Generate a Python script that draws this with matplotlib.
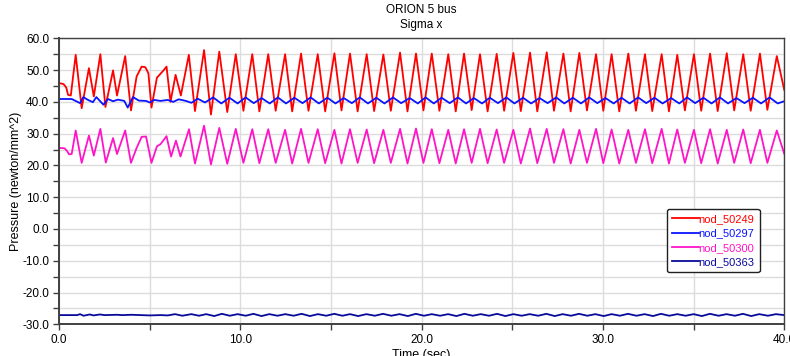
import numpy as np
import matplotlib
matplotlib.use("Agg")
import matplotlib.pyplot as plt
from matplotlib.ticker import MultipleLocator, FormatStrFormatter

plt.rcParams["font.family"] = ["Liberation Sans", "DejaVu Sans"]

labels = ["nod_50249", "nod_50297", "nod_50300", "nod_50363"]
colors = ["#ff0000", "#0a14ff", "#ff14c8", "#0a0a9a"]

# peaks / troughs of the steady oscillation (red and magenta are in phase)
osc_peak_t = [8.0, 8.84, 9.75, 10.66, 11.54, 12.47, 13.35, 14.27, 15.19, 16.05,
              16.97, 17.89, 18.81, 19.69, 20.56, 21.47, 22.34, 23.22, 24.14, 25.06,
              25.98, 26.9, 27.82, 28.7, 29.62, 30.48, 31.4, 32.32, 33.24, 34.1,
              35.02, 35.91, 36.83, 37.74, 38.66, 39.59]
osc_trough_t = [8.38, 9.28, 10.17, 11.05, 11.95, 12.86, 13.76, 14.68, 15.58, 16.47,
                17.38, 18.3, 19.22, 20.1, 20.98, 21.88, 22.76, 23.64, 24.55, 25.47,
                26.38, 27.3, 28.22, 29.12, 30.02, 30.9, 31.82, 32.72, 33.64, 34.52,
                35.42, 36.33, 37.24, 38.15, 39.07]

# nod_50249 (red)
red_early_t = [0.0, 0.25, 0.4, 0.5, 0.65, 0.92, 1.25, 1.65, 1.92, 2.28, 2.56, 2.98,
               3.2, 3.65, 3.97, 4.28, 4.56, 4.76, 4.93, 5.1, 5.4, 5.75, 5.93, 6.15,
               6.43, 6.72, 7.16, 7.5]
red_early_v = [45.9, 45.6, 44.5, 42.2, 42.0, 54.8, 38.0, 50.6, 41.7, 55.0, 38.4, 49.9,
               42.0, 54.4, 37.3, 48.0, 51.1, 50.9, 49.0, 38.2, 47.6, 49.8, 51.1, 40.0,
               48.5, 42.0, 54.8, 37.1]
red_peak_v = [56.3, 55.8, 55.0, 55.0, 55.0, 55.0, 55.2, 55.0, 55.3, 55.2, 55.0, 54.9,
              55.5, 55.2, 55.2, 55.0, 55.2, 55.0, 55.1, 55.4, 55.5, 55.6, 55.2, 55.4,
              55.0, 55.0, 55.2, 55.0, 55.0, 54.8, 55.0, 55.2, 55.3, 55.0, 55.2, 54.4]
red_trough_v = [36.0, 36.8, 37.2, 37.0, 37.2, 37.0, 37.2, 37.0, 37.3, 37.0, 37.1, 37.2,
                37.0, 37.3, 37.2, 37.0, 37.4, 37.0, 37.2, 37.1, 37.0, 37.2, 37.0, 37.3,
                37.2, 37.0, 37.2, 37.1, 37.0, 37.3, 37.2, 37.1, 37.3, 37.2, 37.5]
red_end = (40.0, 43.8)

# nod_50300 (magenta)
mag_early_t = [0.0, 0.3, 0.45, 0.55, 0.7, 0.92, 1.25, 1.65, 1.92, 2.28, 2.58, 2.98,
               3.2, 3.65, 3.97, 4.28, 4.56, 4.8, 5.1, 5.4, 5.6, 5.93, 6.18, 6.45,
               6.7, 7.17, 7.5]
mag_early_v = [25.5, 25.4, 24.5, 23.5, 23.6, 31.0, 20.8, 29.4, 23.1, 31.5, 20.9, 28.6,
               23.6, 31.0, 20.8, 25.5, 29.0, 29.1, 20.8, 26.0, 26.7, 29.2, 22.8, 27.8,
               22.8, 31.4, 20.6]
mag_peak_v = [32.5, 31.8, 31.5, 31.4, 31.4, 31.2, 31.5, 31.4, 31.2, 31.4, 31.3, 31.2,
              31.5, 31.6, 31.4, 31.2, 31.4, 31.5, 31.3, 31.2, 31.6, 31.5, 31.4, 31.2,
              31.5, 31.3, 31.2, 31.4, 31.5, 31.3, 31.2, 31.4, 31.2, 31.3, 31.2, 31.0]
mag_trough_v = [20.3, 20.5, 20.8, 20.7, 20.8, 20.6, 20.8, 20.7, 20.6, 20.8, 20.7, 20.8,
                20.6, 20.8, 20.7, 20.6, 20.8, 20.7, 20.8, 20.6, 20.7, 20.8, 20.6, 20.8,
                20.7, 20.6, 20.8, 20.7, 20.6, 20.8, 20.7, 20.6, 20.8, 20.7, 20.8]
mag_end = (40.0, 23.7)

# nod_50297 (blue)
blue_early_t = [0.0, 0.7, 0.95, 1.16, 1.34, 1.6, 1.87, 2.06, 2.45, 2.7, 2.98, 3.25,
                3.6, 3.79, 4.08, 4.4, 4.8, 5.0, 5.25, 5.6, 6.0, 6.3, 6.6, 7.0, 7.3, 7.65]
blue_early_v = [40.9, 40.9, 40.2, 39.6, 41.5, 40.6, 39.9, 41.5, 39.1, 40.9, 40.2, 40.7,
                40.3, 38.2, 41.5, 40.4, 40.3, 39.8, 40.6, 40.3, 40.6, 40.0, 40.8, 40.3,
                39.7, 41.0]
blue_peak_t = [8.5, 9.4, 10.29, 11.17, 12.07, 12.98, 13.88, 14.8, 15.7, 16.59, 17.5,
               18.42, 19.34, 20.22, 21.1, 22.0, 22.88, 23.76, 24.67, 25.59, 26.5,
               27.42, 28.34, 29.24, 30.14, 31.02, 31.94, 32.84, 33.76, 34.64, 35.54,
               36.45, 37.36, 38.27, 39.19]
blue_peak_v = [41.4, 41.3, 41.4, 41.2, 41.4, 41.3, 41.4, 41.3, 41.2, 41.4, 41.3, 41.4,
               41.2, 41.4, 41.3, 41.4, 41.2, 41.3, 41.4, 41.3, 41.2, 41.4, 41.3, 41.4,
               41.2, 41.3, 41.4, 41.3, 41.2, 41.4, 41.3, 41.4, 41.2, 41.3, 41.4]
blue_trough_t = [8.05, 8.95, 9.85, 10.74, 11.62, 12.52, 13.43, 14.33, 15.25, 16.15,
                 17.04, 17.95, 18.87, 19.79, 20.67, 21.55, 22.45, 23.33, 24.21, 25.12,
                 26.04, 26.95, 27.87, 28.79, 29.69, 30.59, 31.47, 32.39, 33.29, 34.21,
                 35.09, 35.99, 36.9, 37.81, 38.72, 39.64]
blue_trough_v = [39.8, 39.5, 39.5, 39.6, 39.5, 39.5, 39.6, 39.5, 39.5, 39.6, 39.5, 39.5,
                 39.6, 39.5, 39.5, 39.6, 39.5, 39.5, 39.6, 39.5, 39.5, 39.6, 39.5, 39.5,
                 39.6, 39.5, 39.5, 39.6, 39.5, 39.5, 39.6, 39.5, 39.5, 39.6, 39.5, 39.5]
blue_end = (40.0, 40.2)

# nod_50363 (navy)
navy_early_t = [0.0, 1.0, 1.16, 1.35, 1.7, 1.9, 2.26, 2.5, 3.2, 3.5, 4.0, 5.0, 5.6,
                6.0, 6.4, 6.8]
navy_early_v = [-27.1, -27.1, -26.8, -27.3, -26.9, -27.2, -26.9, -27.1, -27.0, -27.1,
                -27.0, -27.2, -27.1, -27.2, -26.8, -27.3]
navy_peak_t = [7.3, 8.12, 8.98, 9.85, 10.72, 11.6, 12.48, 13.38, 14.28, 15.18, 16.05,
               16.95, 17.87, 18.78, 19.68, 20.56, 21.46, 22.36, 23.26, 24.16, 25.06,
               25.96, 26.88, 27.78, 28.68, 29.58, 30.48, 31.38, 32.3, 33.2, 34.1, 35.0,
               35.9, 36.82, 37.72, 38.62, 39.54]
navy_trough_t = [7.72, 8.56, 9.42, 10.3, 11.17, 12.05, 12.94, 13.84, 14.74, 15.63,
                 16.5, 17.42, 18.33, 19.24, 20.13, 21.02, 21.92, 22.82, 23.72, 24.62,
                 25.52, 26.43, 27.34, 28.24, 29.14, 30.04, 30.94, 31.85, 32.76, 33.66,
                 34.56, 35.46, 36.38, 37.28, 38.18, 39.1]
navy_peak_v = [-26.8, -26.8, -26.7, -26.8, -26.7, -26.8, -26.8, -26.7, -26.8, -26.7,
               -26.8, -26.8, -26.7, -26.8, -26.7, -26.8, -26.8, -26.7, -26.8, -26.7,
               -26.8, -26.8, -26.7, -26.8, -26.7, -26.8, -26.8, -26.7, -26.8, -26.7,
               -26.8, -26.8, -26.7, -26.8, -26.7, -26.8, -26.8]
navy_trough_v = [-27.3, -27.4, -27.3, -27.3, -27.4, -27.3, -27.3, -27.4, -27.3, -27.3,
                 -27.4, -27.3, -27.3, -27.4, -27.3, -27.3, -27.4, -27.3, -27.3, -27.4,
                 -27.3, -27.3, -27.4, -27.3, -27.3, -27.4, -27.3, -27.3, -27.4, -27.3,
                 -27.3, -27.4, -27.3, -27.3, -27.4, -27.3]
navy_end = (40.0, -27.1)


def build(early_t, early_v, pk_t, pk_v, tr_t, tr_v, end):
    t = np.concatenate([early_t, pk_t, tr_t, [end[0]]])
    v = np.concatenate([early_v, pk_v, tr_v, [end[1]]])
    order = np.argsort(t, kind="stable")
    return t[order], v[order]


series = [
    build(red_early_t, red_early_v, osc_peak_t, red_peak_v, osc_trough_t, red_trough_v, red_end),
    build(blue_early_t, blue_early_v, blue_peak_t, blue_peak_v, blue_trough_t, blue_trough_v, blue_end),
    build(mag_early_t, mag_early_v, osc_peak_t, mag_peak_v, osc_trough_t, mag_trough_v, mag_end),
    build(navy_early_t, navy_early_v, navy_peak_t, navy_peak_v, navy_trough_t, navy_trough_v, navy_end),
]

fig = plt.figure(figsize=(7.9, 3.56), dpi=100)
ax = fig.add_axes([0.0747, 0.089, 0.918, 0.8034])

for (t, v), lab, col in zip(series, labels, colors):
    ax.plot(t, v, color=col, lw=1.3, label=lab)

ax.set_xlim(0, 40)
ax.set_ylim(-30, 60)
ax.xaxis.set_major_locator(MultipleLocator(10))
ax.xaxis.set_minor_locator(MultipleLocator(5))
ax.yaxis.set_major_locator(MultipleLocator(10))
ax.yaxis.set_minor_locator(MultipleLocator(5))
ax.xaxis.set_major_formatter(FormatStrFormatter("%.1f"))
ax.yaxis.set_major_formatter(FormatStrFormatter("%.1f"))
ax.grid(True, which="both", color="#dcdcdc", lw=1.0)
ax.set_axisbelow(True)
ax.tick_params(which="both", direction="out", length=4, width=1,
               color="#404040", labelsize=8.5, pad=3)

for s in ax.spines.values():
    s.set_color("#404040")
    s.set_linewidth(1.0)
ax.spines["left"].set_linewidth(1.4)
ax.spines["bottom"].set_linewidth(1.4)

ax.set_ylabel("Pressure (newton/mm^2)", fontsize=9, labelpad=0)
ax.set_xlabel("Time (sec)", fontsize=9, labelpad=2)

fig.text(0.5337, 0.972, "ORION 5 bus", ha="center", va="center", fontsize=8.5)
fig.text(0.5337, 0.93, "Sigma x", ha="center", va="center", fontsize=8.5)

leg = ax.legend(loc="upper left", bbox_to_anchor=(667 / 790, 1 - 209 / 356),
                bbox_transform=fig.transFigure, fontsize=8, labelcolor="linecolor",
                handlelength=2.4, handletextpad=0.0, labelspacing=0.4,
                borderpad=0.45, borderaxespad=0, fancybox=True, framealpha=1,
                edgecolor="#202020")
leg.get_frame().set_linewidth(1.0)

fig.savefig("out.png", dpi=100)
